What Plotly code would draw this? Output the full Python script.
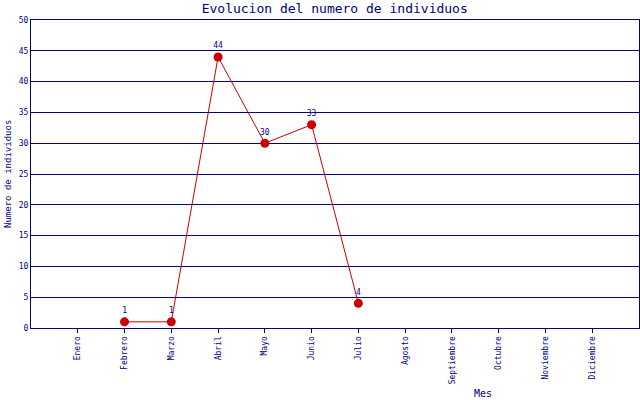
import plotly.graph_objects as go

months = ["Enero", "Febrero", "Marzo", "Abril", "Mayo", "Junio", "Julio",
          "Agosto", "Septiembre", "Octubre", "Noviembre", "Diciembre"]
obs_months = ["Febrero", "Marzo", "Abril", "Mayo", "Junio", "Julio"]
individuos = [1, 1, 44, 30, 33, 4]

NAVY = "#000080"
RED = "#CC0000"
FONT = "DejaVu Sans Mono"

L, R, T, B = 31, 1, 20, 72
W, H = 640, 400
pw, ph = W - L - R, H - T - B


def px_x(x):
    return (x - L) / pw


def px_y(y):
    return (H - B - y) / ph


fig = go.Figure()
fig.add_trace(go.Scatter(
    x=obs_months, y=individuos, mode="lines+markers+text",
    line=dict(color=RED, width=1),
    marker=dict(color=RED, size=9),
    text=[str(v) for v in individuos], textposition="top center",
    textfont=dict(family=FONT, size=8, color=NAVY),
    cliponaxis=False, showlegend=False,
))

fig.update_layout(
    width=W, height=H,
    margin=dict(l=L, r=R, t=T, b=B, autoexpand=False),
    paper_bgcolor="white", plot_bgcolor="white",
    font=dict(family=FONT, color=NAVY, size=8),
    title=dict(text="Evolucion del numero de individuos", x=0.523, xanchor="center",
               y=0.978, yanchor="middle", font=dict(family=FONT, size=13, color=NAVY)),
    xaxis=dict(type="category", categoryorder="array", categoryarray=months,
               tickvals=months, range=[-1, 12], showgrid=False, zeroline=False,
               showline=True, linecolor=NAVY, linewidth=1, mirror=True,
               ticks="outside", ticklen=4, tickcolor=NAVY, tickangle=-90,
               automargin=False,
               tickfont=dict(family=FONT, size=8, color=NAVY)),
    yaxis=dict(range=[0, 50], dtick=5, showgrid=True, gridcolor=NAVY, gridwidth=1,
               zeroline=False, showline=True, linecolor=NAVY, linewidth=1, mirror=True,
               ticks="", automargin=False,
               tickfont=dict(family=FONT, size=8, color=NAVY)),
    annotations=[
        dict(text="Mes", x=px_x(483), y=px_y(394), xref="paper", yref="paper",
             yanchor="middle", xanchor="center", showarrow=False,
             font=dict(family=FONT, size=10, color=NAVY)),
        dict(text="Numero de individuos", x=px_x(8), y=px_y(174), xref="paper",
             yref="paper", textangle=-90, xanchor="center", yanchor="middle",
             showarrow=False, font=dict(family=FONT, size=9, color=NAVY)),
    ],
)
fig.write_html("out.html", config={"displayModeBar": False},
               post_script="document.body.style.margin='0';")
